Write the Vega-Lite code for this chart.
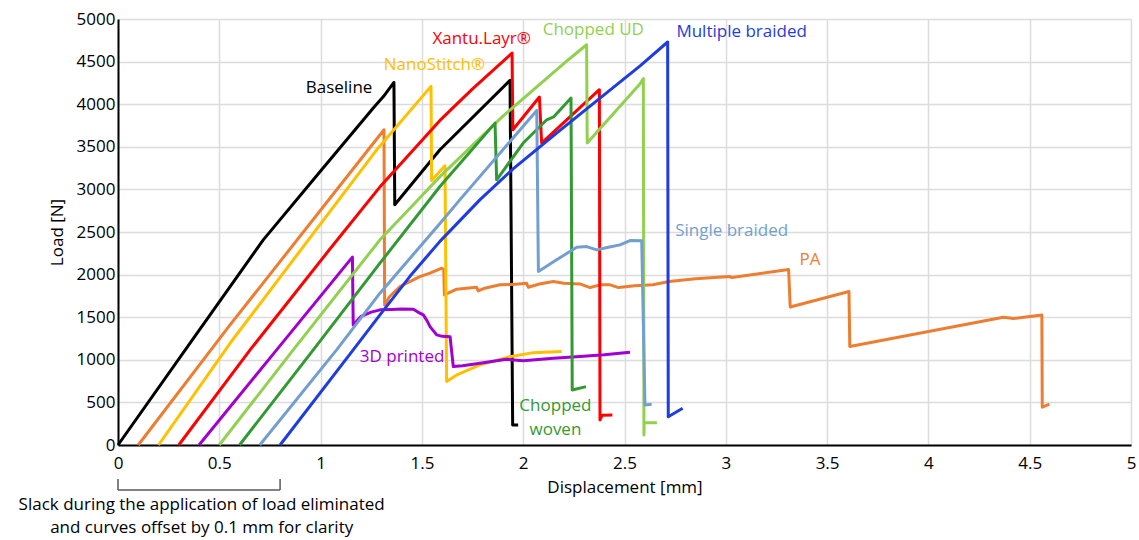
{
  "$schema": "https://vega.github.io/schema/vega-lite/v6.json",
  "width": 1013,
  "height": 426,
  "autosize": {"type": "none"},
  "padding": {"left": 118, "top": 19, "right": 8, "bottom": 95},
  "config": {
    "view": {"stroke": null},
    "font": "Open Sans",
    "axis": {
      "ticks": false, "tickSize": 0, "tickOpacity": 0, "grid": true,
      "gridColor": "#dcdcdc", "gridWidth": 1.5,
      "domainColor": "#000000", "domainWidth": 2,
      "labelFontSize": 17, "labelColor": "#000000", "labelFlush": false,
      "labelFont": "Open Sans", "titleFont": "Open Sans",
      "titleFontSize": 17, "titleFontWeight": "normal", "titleColor": "#000000"
    },
    "axisX": {"labelPadding": 10, "titlePadding": 8},
    "axisY": {"labelPadding": 3, "titlePadding": 10}
  },
  "datasets": {
    "curves": [
      {"s": "Baseline", "x": 0, "y": 0}, {"s": "Baseline", "x": 0.36, "y": 1210}, {"s": "Baseline", "x": 0.717, "y": 2408}, {"s": "Baseline", "x": 1.0, "y": 3215}, {"s": "Baseline", "x": 1.26, "y": 3955}, {"s": "Baseline", "x": 1.31, "y": 4090}, {"s": "Baseline", "x": 1.362, "y": 4255}, {"s": "Baseline", "x": 1.366, "y": 2820}, {"s": "Baseline", "x": 1.589, "y": 3465}, {"s": "Baseline", "x": 1.935, "y": 4279}, {"s": "Baseline", "x": 1.948, "y": 235}, {"s": "Baseline", "x": 1.975, "y": 235},

      {"s": "PA", "x": 0.1, "y": 0}, {"s": "PA", "x": 0.553, "y": 1409}, {"s": "PA", "x": 1.235, "y": 3465}, {"s": "PA", "x": 1.313, "y": 3700}, {"s": "PA", "x": 1.316, "y": 1644}, {"s": "PA", "x": 1.34, "y": 1740}, {"s": "PA", "x": 1.392, "y": 1860}, {"s": "PA", "x": 1.49, "y": 1977}, {"s": "PA", "x": 1.54, "y": 2017}, {"s": "PA", "x": 1.598, "y": 2075}, {"s": "PA", "x": 1.608, "y": 2060}, {"s": "PA", "x": 1.611, "y": 1762}, {"s": "PA", "x": 1.672, "y": 1829}, {"s": "PA", "x": 1.77, "y": 1852}, {"s": "PA", "x": 1.778, "y": 1809}, {"s": "PA", "x": 1.81, "y": 1840}, {"s": "PA", "x": 1.885, "y": 1880}, {"s": "PA", "x": 1.95, "y": 1885}, {"s": "PA", "x": 2.017, "y": 1899}, {"s": "PA", "x": 2.025, "y": 1852}, {"s": "PA", "x": 2.08, "y": 1890}, {"s": "PA", "x": 2.149, "y": 1918}, {"s": "PA", "x": 2.2, "y": 1899}, {"s": "PA", "x": 2.28, "y": 1891}, {"s": "PA", "x": 2.33, "y": 1848}, {"s": "PA", "x": 2.38, "y": 1880}, {"s": "PA", "x": 2.43, "y": 1880}, {"s": "PA", "x": 2.47, "y": 1848}, {"s": "PA", "x": 2.55, "y": 1870}, {"s": "PA", "x": 2.64, "y": 1880}, {"s": "PA", "x": 2.72, "y": 1918}, {"s": "PA", "x": 2.85, "y": 1950}, {"s": "PA", "x": 3.02, "y": 1977}, {"s": "PA", "x": 3.03, "y": 1965}, {"s": "PA", "x": 3.31, "y": 2060}, {"s": "PA", "x": 3.318, "y": 1620}, {"s": "PA", "x": 3.608, "y": 1801}, {"s": "PA", "x": 3.612, "y": 1155}, {"s": "PA", "x": 4.37, "y": 1500}, {"s": "PA", "x": 4.42, "y": 1485}, {"s": "PA", "x": 4.56, "y": 1527}, {"s": "PA", "x": 4.562, "y": 443}, {"s": "PA", "x": 4.597, "y": 481},

      {"s": "NanoStitch", "x": 0.2, "y": 0}, {"s": "NanoStitch", "x": 0.553, "y": 1194}, {"s": "NanoStitch", "x": 1.277, "y": 3465}, {"s": "NanoStitch", "x": 1.545, "y": 4209}, {"s": "NanoStitch", "x": 1.548, "y": 3105}, {"s": "NanoStitch", "x": 1.614, "y": 3277}, {"s": "NanoStitch", "x": 1.622, "y": 744}, {"s": "NanoStitch", "x": 1.672, "y": 822}, {"s": "NanoStitch", "x": 1.787, "y": 940}, {"s": "NanoStitch", "x": 1.935, "y": 1037}, {"s": "NanoStitch", "x": 2.05, "y": 1084}, {"s": "NanoStitch", "x": 2.19, "y": 1096},

      {"s": "Xantu.Layr", "x": 0.3, "y": 0}, {"s": "Xantu.Layr", "x": 0.652, "y": 1116}, {"s": "Xantu.Layr", "x": 1.046, "y": 2300}, {"s": "Xantu.Layr", "x": 1.3, "y": 3050}, {"s": "Xantu.Layr", "x": 1.589, "y": 3810}, {"s": "Xantu.Layr", "x": 1.75, "y": 4180}, {"s": "Xantu.Layr", "x": 1.945, "y": 4600}, {"s": "Xantu.Layr", "x": 1.949, "y": 3700}, {"s": "Xantu.Layr", "x": 2.08, "y": 4084}, {"s": "Xantu.Layr", "x": 2.091, "y": 3544}, {"s": "Xantu.Layr", "x": 2.18, "y": 3739}, {"s": "Xantu.Layr", "x": 2.376, "y": 4170}, {"s": "Xantu.Layr", "x": 2.379, "y": 294}, {"s": "Xantu.Layr", "x": 2.39, "y": 350}, {"s": "Xantu.Layr", "x": 2.44, "y": 352},

      {"s": "3D printed", "x": 0.4, "y": 0}, {"s": "3D printed", "x": 0.783, "y": 1116}, {"s": "3D printed", "x": 1.157, "y": 2205}, {"s": "3D printed", "x": 1.161, "y": 1409}, {"s": "3D printed", "x": 1.2, "y": 1510}, {"s": "3D printed", "x": 1.25, "y": 1560}, {"s": "3D printed", "x": 1.293, "y": 1586}, {"s": "3D printed", "x": 1.35, "y": 1590}, {"s": "3D printed", "x": 1.4, "y": 1596}, {"s": "3D printed", "x": 1.458, "y": 1593}, {"s": "3D printed", "x": 1.48, "y": 1560}, {"s": "3D printed", "x": 1.507, "y": 1527}, {"s": "3D printed", "x": 1.525, "y": 1460}, {"s": "3D printed", "x": 1.54, "y": 1390}, {"s": "3D printed", "x": 1.573, "y": 1292}, {"s": "3D printed", "x": 1.6, "y": 1275}, {"s": "3D printed", "x": 1.639, "y": 1272}, {"s": "3D printed", "x": 1.655, "y": 920}, {"s": "3D printed", "x": 1.7, "y": 930}, {"s": "3D printed", "x": 1.787, "y": 960}, {"s": "3D printed", "x": 1.918, "y": 1006}, {"s": "3D printed", "x": 2.0, "y": 990}, {"s": "3D printed", "x": 2.149, "y": 1018}, {"s": "3D printed", "x": 2.28, "y": 1040}, {"s": "3D printed", "x": 2.4, "y": 1060}, {"s": "3D printed", "x": 2.527, "y": 1089},

      {"s": "Chopped UD", "x": 0.5, "y": 0}, {"s": "Chopped UD", "x": 0.865, "y": 1116}, {"s": "Chopped UD", "x": 1.293, "y": 2408}, {"s": "Chopped UD", "x": 1.474, "y": 2860}, {"s": "Chopped UD", "x": 1.589, "y": 3150}, {"s": "Chopped UD", "x": 1.9, "y": 3860}, {"s": "Chopped UD", "x": 2.223, "y": 4522}, {"s": "Chopped UD", "x": 2.313, "y": 4698}, {"s": "Chopped UD", "x": 2.316, "y": 3544}, {"s": "Chopped UD", "x": 2.577, "y": 4240}, {"s": "Chopped UD", "x": 2.593, "y": 4300}, {"s": "Chopped UD", "x": 2.596, "y": 117}, {"s": "Chopped UD", "x": 2.597, "y": 262}, {"s": "Chopped UD", "x": 2.66, "y": 262},

      {"s": "Chopped woven", "x": 0.6, "y": 0}, {"s": "Chopped woven", "x": 0.964, "y": 1116}, {"s": "Chopped woven", "x": 1.293, "y": 2134}, {"s": "Chopped woven", "x": 1.589, "y": 3034}, {"s": "Chopped woven", "x": 1.861, "y": 3778}, {"s": "Chopped woven", "x": 1.869, "y": 3112}, {"s": "Chopped woven", "x": 2.0, "y": 3544}, {"s": "Chopped woven", "x": 2.116, "y": 3817}, {"s": "Chopped woven", "x": 2.15, "y": 3850}, {"s": "Chopped woven", "x": 2.236, "y": 4072}, {"s": "Chopped woven", "x": 2.242, "y": 646}, {"s": "Chopped woven", "x": 2.31, "y": 685},

      {"s": "Single braided", "x": 0.7, "y": 0}, {"s": "Single braided", "x": 1.079, "y": 1116}, {"s": "Single braided", "x": 1.293, "y": 1782}, {"s": "Single braided", "x": 1.589, "y": 2600}, {"s": "Single braided", "x": 1.688, "y": 2880}, {"s": "Single braided", "x": 2.067, "y": 3927}, {"s": "Single braided", "x": 2.075, "y": 2036}, {"s": "Single braided", "x": 2.165, "y": 2173}, {"s": "Single braided", "x": 2.264, "y": 2322}, {"s": "Single braided", "x": 2.313, "y": 2329}, {"s": "Single braided", "x": 2.363, "y": 2290}, {"s": "Single braided", "x": 2.42, "y": 2320}, {"s": "Single braided", "x": 2.478, "y": 2349}, {"s": "Single braided", "x": 2.527, "y": 2400}, {"s": "Single braided", "x": 2.585, "y": 2396}, {"s": "Single braided", "x": 2.601, "y": 470}, {"s": "Single braided", "x": 2.634, "y": 478},

      {"s": "Multiple braided", "x": 0.8, "y": 0}, {"s": "Multiple braided", "x": 1.161, "y": 1116}, {"s": "Multiple braided", "x": 1.293, "y": 1527}, {"s": "Multiple braided", "x": 1.441, "y": 1980}, {"s": "Multiple braided", "x": 1.589, "y": 2390}, {"s": "Multiple braided", "x": 1.787, "y": 2880}, {"s": "Multiple braided", "x": 1.95, "y": 3240}, {"s": "Multiple braided", "x": 2.18, "y": 3690}, {"s": "Multiple braided", "x": 2.577, "y": 4450}, {"s": "Multiple braided", "x": 2.713, "y": 4730}, {"s": "Multiple braided", "x": 2.716, "y": 332}, {"s": "Multiple braided", "x": 2.787, "y": 431}
    ],
    "labels": [
      {"t": "Baseline", "s": "Baseline", "x": 1.091, "y": 4193},
      {"t": "NanoStitch®", "s": "NanoStitch", "x": 1.562, "y": 4463},
      {"t": "Xantu.Layr®", "s": "Xantu.Layr", "x": 1.795, "y": 4765},
      {"t": "Chopped UD", "s": "Chopped UD", "x": 2.346, "y": 4866},
      {"t": "Multiple braided", "s": "Multiple braided", "x": 3.078, "y": 4843},
      {"t": "Single braided", "s": "Single braided", "x": 3.029, "y": 2517},
      {"t": "PA", "s": "PA", "x": 3.416, "y": 2173},
      {"t": "3D printed", "s": "3D printed", "x": 1.402, "y": 1030},
      {"t": "Chopped", "s": "Chopped woven", "x": 2.159, "y": 458},
      {"t": "woven", "s": "Chopped woven", "x": 2.159, "y": 176}
    ],
    "note": [
      {"t": "Slack during the application of load eliminated", "x": 0.413, "y": -705},
      {"t": "and curves offset by 0.1 mm for clarity", "x": 0.413, "y": -969}
    ],
    "bracket": [
      {"x": 0, "x2": 0.8, "y": -528, "y2": -528},
      {"x": 0, "x2": 0, "y": -399, "y2": -528},
      {"x": 0.8, "x2": 0.8, "y": -399, "y2": -528}
    ]
  },
  "layer": [
    {
      "data": {"name": "curves"},
      "mark": {"type": "line", "strokeWidth": 3, "strokeJoin": "round"},
      "encoding": {
        "x": {
          "field": "x", "type": "quantitative",
          "scale": {"domain": [0, 5], "nice": false, "zero": false},
          "axis": {"title": "Displacement [mm]", "values": [0, 0.5, 1, 1.5, 2, 2.5, 3, 3.5, 4, 4.5, 5], "format": "~f", "ticks": false}
        },
        "y": {
          "field": "y", "type": "quantitative",
          "scale": {"domain": [0, 5000], "nice": false},
          "axis": {"title": "Load [N]", "values": [0, 500, 1000, 1500, 2000, 2500, 3000, 3500, 4000, 4500, 5000], "format": "d", "ticks": false}
        },
        "color": {
          "field": "s", "type": "nominal", "legend": null,
          "scale": {
            "domain": ["Baseline", "PA", "NanoStitch", "Xantu.Layr", "3D printed", "Chopped UD", "Chopped woven", "Single braided", "Multiple braided"],
            "range": ["#000000", "#ED7D31", "#FFC000", "#FF0000", "#A000D0", "#92D050", "#339933", "#729FCF", "#1F3CE0"]
          }
        },
        "detail": {"field": "s"},
        "order": {"value": null}
      }
    },
    {
      "data": {"name": "labels"},
      "mark": {"type": "text", "font": "Open Sans", "fontSize": 17, "align": "center", "baseline": "middle"},
      "encoding": {
        "x": {"field": "x", "type": "quantitative"},
        "y": {"field": "y", "type": "quantitative"},
        "text": {"field": "t"},
        "color": {"field": "s", "type": "nominal", "legend": null}
      }
    },
    {
      "data": {"name": "bracket"},
      "mark": {"type": "rule", "color": "#595959", "strokeWidth": 1.5},
      "encoding": {
        "x": {"field": "x", "type": "quantitative"},
        "x2": {"field": "x2"},
        "y": {"field": "y", "type": "quantitative"},
        "y2": {"field": "y2"}
      }
    },
    {
      "data": {"name": "note"},
      "mark": {"type": "text", "font": "Open Sans", "fontSize": 17, "align": "center", "baseline": "middle", "color": "#000000"},
      "encoding": {
        "x": {"field": "x", "type": "quantitative"},
        "y": {"field": "y", "type": "quantitative"},
        "text": {"field": "t"}
      }
    }
  ]
}
